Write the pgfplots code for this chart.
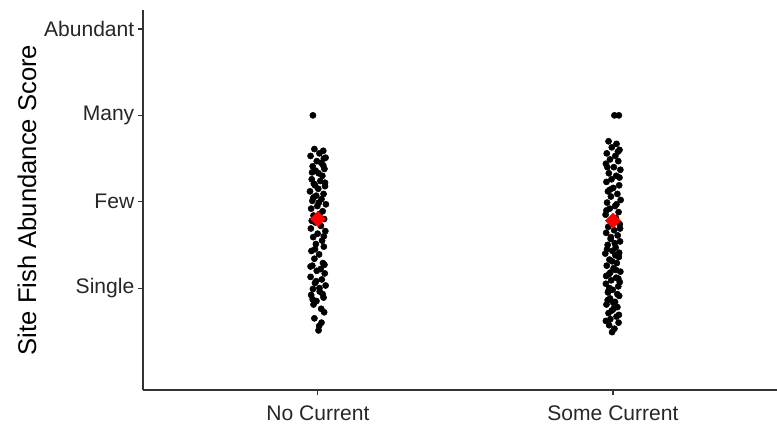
\documentclass[border=0pt]{standalone}
\usepackage{pgfplots}
\pgfplotsset{compat=1.18}
\usepackage{fontspec}
\setmainfont{Liberation Sans}
\begin{document}
\begin{tikzpicture}
\useasboundingbox (-107.25pt,-25.5pt) rectangle (475.5pt,292.5pt);
\begin{axis}[
  at={(0,0)}, anchor=south west,
  scale only axis, width=475.5pt, height=285pt,
  xmin=0.407, xmax=2.556, ymin=-0.18, ymax=4.22,
  axis x line*=bottom, axis y line*=left,
  axis line style={black!80, line width=0.8pt, -},
  xtick={1,2}, xticklabels={No Current,Some Current},
  ytick={1,2,3,4}, yticklabels={Single,Few,Many,Abundant},
  tick align=outside, major tick length=4pt,
  tick style={black!80, line width=0.8pt},
  tick label style={font=\fontsize{15.8}{17}\selectfont, text=black!85},
  yticklabel style={xshift=1pt},
  xticklabel style={yshift=-4pt},
  ylabel={Site Fish Abundance Score},
  ylabel style={font=\fontsize{19.2}{21}\selectfont, yshift=-1pt},
  clip=false,
]
\addplot[only marks, mark=*, mark size=2.3pt, black] table {
x y
0.983 3.00
0.988 2.61
1.018 2.59
1.005 2.56
0.975 2.53
1.026 2.51
0.996 2.47
1.011 2.45
0.982 2.41
1.022 2.38
0.992 2.36
1.002 2.33
1.015 2.30
0.979 2.26
1.008 2.24
0.986 2.21
1.024 2.18
1.001 2.15
0.973 2.12
1.019 2.09
0.994 2.07
1.012 2.03
0.981 2.01
1.027 1.97
0.998 1.95
0.977 1.92
1.016 1.89
1.006 1.86
0.985 1.84
1.021 1.80
0.991 1.76
1.010 1.72
0.976 1.69
1.025 1.66
0.999 1.63
0.984 1.59
1.014 1.55
0.993 1.51
1.020 1.48
0.978 1.43
1.004 1.39
0.988 1.34
1.017 1.29
0.981 1.26
1.009 1.22
0.996 1.20
1.023 1.17
0.975 1.13
1.013 1.10
0.990 1.06
1.026 1.03
0.983 0.99
1.006 0.96
0.977 0.92
1.019 0.89
0.995 0.85
0.985 0.81
1.011 0.76
1.021 0.72
0.988 0.65
1.012 0.60
1.004 0.56
1.002 0.51
1.020 2.50
0.980 2.34
1.024 2.22
0.985 2.05
1.003 1.99
0.979 1.78
1.020 1.60
0.990 1.45
1.022 1.27
0.994 1.08
1.005 1.00
0.982 0.87
1.016 0.93
0.975 1.25
1.018 2.42
0.990 2.19
};
\addplot[only marks, mark=*, mark size=2.3pt, black] table {
x y
2.005 3.00
2.020 3.00
1.985 2.70
2.012 2.67
1.996 2.63
2.022 2.60
1.979 2.56
2.008 2.53
1.990 2.49
2.018 2.47
1.976 2.44
2.003 2.40
2.025 2.37
1.986 2.33
2.011 2.30
1.995 2.26
1.978 2.23
2.021 2.19
2.001 2.16
1.983 2.12
2.015 2.09
1.993 2.06
2.026 2.02
1.980 1.99
2.007 1.95
1.989 1.92
2.019 1.88
1.975 1.85
2.010 1.81
1.997 1.78
2.023 1.74
1.984 1.71
2.004 1.67
1.977 1.64
2.016 1.61
1.992 1.57
2.024 1.54
1.982 1.50
2.009 1.47
1.998 1.43
1.974 1.40
2.020 1.36
1.988 1.33
2.013 1.29
1.979 1.26
2.002 1.23
2.025 1.19
1.986 1.16
2.011 1.12
1.994 1.09
1.976 1.05
2.018 1.02
1.999 0.98
1.983 0.95
2.021 0.91
1.990 0.88
2.007 0.84
1.978 0.81
2.015 0.78
1.996 0.74
1.985 0.71
2.012 0.67
1.991 0.64
2.019 0.60
1.987 0.57
2.005 0.53
1.997 0.49
2.017 2.58
1.981 2.40
2.022 2.28
1.990 2.14
2.012 1.97
1.978 1.90
2.024 1.69
1.993 1.59
2.006 1.52
1.980 1.45
2.021 1.41
1.997 1.31
2.010 1.21
1.977 1.14
2.023 1.07
1.988 1.00
2.015 0.93
1.982 0.86
2.002 0.76
2.020 0.69
1.976 0.62
2.008 1.38
1.991 1.18
2.018 1.11
1.985 0.97
2.001 0.83
};
\addplot[only marks, mark=square*, mark size=4pt, mark options={rotate=45}, color=red] coordinates {
(1,1.80) (2,1.78)
};
\end{axis}
\end{tikzpicture}
\end{document}
